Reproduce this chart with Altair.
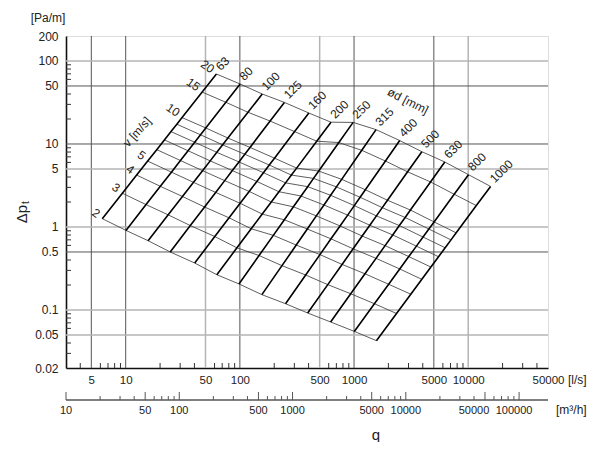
import math
import altair as alt
import pandas as pd

# ---------------- data ----------------
diameters = [63, 80, 100, 125, 160, 200, 250, 315, 400, 500, 630, 800, 1000]   # ød [mm]
velocities = [2, 3, 4, 5, 6, 7, 8, 9, 10, 15, 20]                              # v [m/s]
labelled_velocities = [2, 3, 4, 5, 10, 15, 20]

# pressure loss [Pa/m] at each diameter, one list per velocity
dp_v2 = [1.26, 0.910, 0.684, 0.500, 0.368, 0.266, 0.206, 0.153, 0.119, 0.0920, 0.0717, 0.0552, 0.0427]
dp_v3 = [2.55, 1.86, 1.40, 1.04, 0.767, 0.561, 0.453, 0.342, 0.264, 0.202, 0.157, 0.119, 0.0907]
dp_v4 = [4.22, 3.09, 2.33, 1.74, 1.29, 0.952, 0.793, 0.606, 0.465, 0.354, 0.273, 0.204, 0.155]
dp_v5 = [6.22, 4.58, 3.45, 2.61, 1.93, 1.43, 1.22, 0.945, 0.720, 0.546, 0.419, 0.312, 0.234]
dp_v6 = [8.55, 6.32, 4.77, 3.62, 2.68, 2.00, 1.75, 1.36, 1.03, 0.778, 0.596, 0.440, 0.329]
dp_v7 = [11.2, 8.29, 6.26, 4.78, 3.54, 2.66, 2.36, 1.84, 1.39, 1.05, 0.802, 0.588, 0.438]
dp_v8 = [14.1, 10.5, 7.93, 6.08, 4.51, 3.40, 3.06, 2.41, 1.81, 1.36, 1.04, 0.757, 0.562]
dp_v9 = [17.3, 12.9, 9.76, 7.52, 5.58, 4.22, 3.85, 3.04, 2.28, 1.71, 1.30, 0.945, 0.699]
dp_v10 = [20.8, 15.6, 11.8, 9.09, 6.75, 5.12, 4.72, 3.75, 2.81, 2.10, 1.60, 1.15, 0.850]
dp_v15 = [42.2, 31.8, 24.1, 18.9, 14.1, 10.8, 10.4, 8.39, 6.23, 4.62, 3.49, 2.48, 1.81]
dp_v20 = [69.7, 52.8, 40.0, 31.7, 23.6, 18.3, 18.2, 14.9, 11.0, 8.08, 6.07, 4.27, 3.08]
dp_table = [dp_v2, dp_v3, dp_v4, dp_v5, dp_v6, dp_v7, dp_v8, dp_v9, dp_v10, dp_v15, dp_v20]

# axes
q_labels = [5, 10, 50, 100, 500, 1000, 5000, 10000, 50000]                    # [l/s]
q_grid = [5, 10, 50, 100, 500, 1000, 5000, 10000]
q_grid_shade = ["dark", "dark", "light", "dark", "light", "dark", "dark", "light"]
q_minor = [4, 6, 7, 8, 9, 20, 30, 40, 60, 70, 80, 90, 200, 300, 400, 600, 700, 800, 900,
           2000, 3000, 4000, 6000, 7000, 8000, 9000, 20000, 30000, 40000]
dp_labels = [200, 100, 50, 10, 5, 1, 0.5, 0.1, 0.05, 0.02]                    # [Pa/m]
dp_grid = [100, 50, 10, 5, 1, 0.5, 0.1, 0.05]
dp_grid_shade = ["light", "dark", "dark", "light", "light", "dark", "light", "light"]
dp_minor = [0.03, 0.04, 0.06, 0.07, 0.08, 0.09, 0.2, 0.3, 0.4, 0.6, 0.7, 0.8, 0.9,
            2, 3, 4, 6, 7, 8, 9, 20, 30, 40, 60, 70, 80, 90]
m3h_major = [10, 50, 100, 500, 1000, 5000, 10000, 50000, 100000]              # [m3/h]
m3h_minor = [20, 30, 40, 60, 70, 80, 90, 200, 300, 400, 600, 700, 800, 900,
             2000, 3000, 4000, 6000, 7000, 8000, 9000, 20000, 30000, 40000,
             60000, 70000, 80000, 90000]
m3h_range = [10, 180000]

# ---------------- tables ----------------
rows = []
for v, dps in zip(velocities, dp_table):
    for d, dp in zip(diameters, dps):
        q = v * math.pi * (d / 1000.0) ** 2 / 4.0 * 1000.0   # l/s
        rows.append({"d": d, "v": v, "q": q, "dp": dp, "dlab": str(d), "vlab": str(v),
                     "vlabelled": v in labelled_velocities})
net = pd.DataFrame(rows)

gx = pd.DataFrame({"value": q_grid, "shade": q_grid_shade})
gy = pd.DataFrame({"value": dp_grid, "shade": dp_grid_shade})
mx = pd.DataFrame({"value": q_minor})
my = pd.DataFrame({"value": dp_minor})
ax2_major = pd.DataFrame({"value": m3h_major, "label": [str(x) for x in m3h_major]})
ax2_minor = pd.DataFrame({"value": m3h_minor})
ax2_line = pd.DataFrame({"a": [m3h_range[0]], "b": [m3h_range[1]]})

# ---------------- styling ----------------
W, H = 482, 332
FONT = "Liberation Sans"
TXT = "#222222"

xs = alt.Scale(type="log", domain=[3, 50000], nice=False)
ys = alt.Scale(type="log", domain=[0.02, 200], nice=False)
xaxis = alt.Axis(values=q_labels, format="~g", ticks=False, grid=False, domainColor="#111111",
                 domainWidth=1.6, labelPadding=6, labelFontSize=11.5, labelFont=FONT,
                 labelColor=TXT, labelFlush=False, labelOverlap=False, title=None)
yaxis = alt.Axis(values=dp_labels, format="~g", ticks=False, grid=False, domainColor="#111111",
                 domainWidth=1.6, labelPadding=8, labelFontSize=12, labelFont=FONT,
                 labelColor=TXT, labelFlush=False, labelOverlap=False, title=None)

shade_color = alt.Color("shade:N", scale=alt.Scale(domain=["dark", "light"], range=["#555555", "#b4b4b4"]), legend=None)
shade_width = alt.StrokeWidth("shade:N", scale=alt.Scale(domain=["dark", "light"], range=[1.0, 1.5]), legend=None)

X = lambda f: alt.X(f, scale=xs, axis=xaxis, title=None)
Y = lambda f: alt.Y(f, scale=ys, axis=yaxis, title=None)

grid_x = alt.Chart(gx).mark_rule().encode(x=X("value:Q"), color=shade_color, strokeWidth=shade_width)
grid_y = alt.Chart(gy).mark_rule().encode(y=Y("value:Q"), color=shade_color, strokeWidth=shade_width)
minor_x = alt.Chart(mx).mark_rule(color="#333333", strokeWidth=1).encode(
    x=X("value:Q"), y=alt.value(H - 5), y2=alt.value(H))
minor_y = alt.Chart(my).mark_rule(color="#333333", strokeWidth=1).encode(
    y=Y("value:Q"), x=alt.value(0), x2=alt.value(5))

vel_lines = alt.Chart(net).mark_line(color="#333333", strokeWidth=0.8).encode(
    x=X("q:Q"), y=Y("dp:Q"), detail="v:N", order="d:Q")
dia_lines = alt.Chart(net).mark_line(color="#000000", strokeWidth=1.6).encode(
    x=X("q:Q"), y=Y("dp:Q"), detail="d:N", order="v:Q")

dia_text = alt.Chart(net).transform_filter("datum.v == 20").mark_text(
    align="left", baseline="middle", angle=315, dx=5, dy=-3, fontSize=12, font=FONT, color=TXT
).encode(x=X("q:Q"), y=Y("dp:Q"), text="dlab:N")

vel_text = alt.Chart(net).transform_filter("datum.d == 63 && datum.vlabelled").mark_text(
    align="right", baseline="middle", angle=35, dx=-5, dy=-1, fontSize=12, font=FONT, color=TXT
).encode(x=X("q:Q"), y=Y("dp:Q"), text="vlab:N")

annot = pd.DataFrame({"t": ["x"]})
v_title = alt.Chart(annot).mark_text(text="v [m/s]", angle=312, fontSize=12, font=FONT, color=TXT).encode(
    x=alt.value(71), y=alt.value(96))
d_title = alt.Chart(annot).mark_text(text="ød [mm]", angle=27, fontSize=12, font=FONT, color=TXT).encode(
    x=alt.value(342), y=alt.value(65))
pa_title = alt.Chart(annot).mark_text(text="[Pa/m]", fontSize=12, font=FONT, color=TXT).encode(
    x=alt.value(-18), y=alt.value(-18))
dp_title = alt.Chart(annot).mark_text(text="Δp", angle=270, fontSize=15, font=FONT, color=TXT).encode(
    x=alt.value(-44), y=alt.value(178))
dp_sub = alt.Chart(annot).mark_text(text="t", angle=270, align="left", baseline="middle", dx=10, dy=4,
                                    fontSize=10, font=FONT, color=TXT).encode(
    x=alt.value(-44), y=alt.value(178))
ls_title = alt.Chart(annot).mark_text(text="[l/s]", align="left", fontSize=12, font=FONT, color=TXT).encode(
    x=alt.value(W + 20), y=alt.value(H + 12))
m3_title = alt.Chart(annot).mark_text(text="[m³/h]", align="left", fontSize=12, font=FONT, color=TXT).encode(
    x=alt.value(W + 8), y=alt.value(H + 42))
q_title = alt.Chart(annot).mark_text(text="q", fontSize=15, font=FONT, color=TXT).encode(
    x=alt.value(310), y=alt.value(H + 67))

main = alt.layer(grid_x, grid_y, minor_x, minor_y, vel_lines, dia_lines, dia_text, vel_text,
                 v_title, d_title, pa_title, dp_title, dp_sub, ls_title, m3_title, q_title)

# second (m3/h) axis
xs2 = alt.Scale(type="log", domain=m3h_range, nice=False)
X2 = lambda f: alt.X(f, scale=xs2, axis=None)
line2 = alt.Chart(ax2_line).mark_rule(color="#555555", strokeWidth=1.5).encode(
    x=X2("a:Q"), x2="b:Q", y=alt.value(H + 32))
maj2 = alt.Chart(ax2_major).mark_rule(color="#555555", strokeWidth=1).encode(
    x=X2("value:Q"), y=alt.value(H + 24), y2=alt.value(H + 32))
min2 = alt.Chart(ax2_minor).mark_rule(color="#555555", strokeWidth=1).encode(
    x=X2("value:Q"), y=alt.value(H + 28), y2=alt.value(H + 32))
lab2 = alt.Chart(ax2_major).transform_filter("datum.value < 50000").mark_text(
    baseline="middle", fontSize=11, font=FONT, color=TXT).encode(
    x=X2("value:Q"), y=alt.value(H + 43), text="label:N")
lab2_50k = alt.Chart(ax2_major).transform_filter("datum.value == 50000").mark_text(
    baseline="middle", dx=-11, fontSize=11, font=FONT, color=TXT).encode(
    x=X2("value:Q"), y=alt.value(H + 43), text="label:N")
lab2_100k = alt.Chart(ax2_major).transform_filter("datum.value == 100000").mark_text(
    baseline="middle", dx=-5, fontSize=11, font=FONT, color=TXT).encode(
    x=X2("value:Q"), y=alt.value(H + 43), text="label:N")
lower = alt.layer(line2, maj2, min2, lab2, lab2_50k, lab2_100k)

chart = alt.layer(main, lower).resolve_scale(x="independent").properties(
    width=W, height=H,
    autosize=alt.AutoSizeParams(type="none"),
    padding={"left": 58, "top": 28, "right": 44, "bottom": 74},
).configure_view(stroke="#111111", strokeWidth=1.4).configure(background="white")

chart.save("out.html", embed_options={"renderer": "svg", "actions": False})
